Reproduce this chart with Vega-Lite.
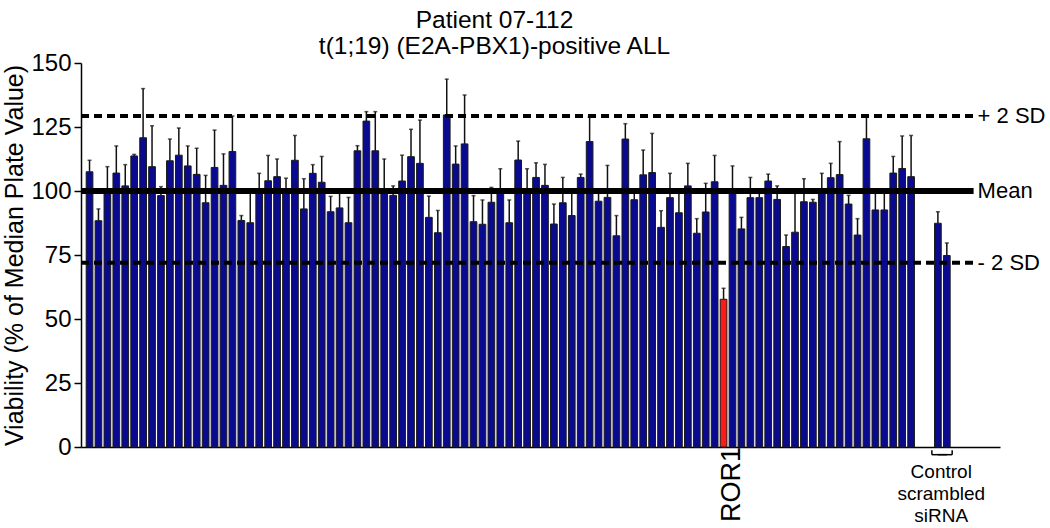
{
  "$schema": "https://vega.github.io/schema/vega-lite/v6.json",
  "width": 919,
  "height": 384,
  "autosize": "none",
  "padding": {"left": 81, "top": 63, "right": 50, "bottom": 81},
  "background": "white",
  "config": {
    "view": {"stroke": null},
    "font": "Liberation Sans",
    "axis": {"grid": false}
  },
  "title": {
    "text": ["Patient 07-112", "t(1;19) (E2A-PBX1)-positive ALL"],
    "fontSize": 24.5,
    "font": "Liberation Sans",
    "fontWeight": "normal",
    "color": "black",
    "lineHeight": 26,
    "anchor": "middle",
    "frame": "group",
    "dx": -46,
    "dy": 40,
    "baseline": "bottom",
    "offset": 8
  },
  "datasets": {
    "bars": [
      {"i":1,"v":107.5,"e":112,"g":"siRNA"},
      {"i":2,"v":88.4,"e":93,"g":"siRNA"},
      {"i":3,"v":100.5,"e":109.5,"g":"siRNA"},
      {"i":4,"v":107,"e":117.6,"g":"siRNA"},
      {"i":5,"v":102,"e":110.3,"g":"siRNA"},
      {"i":6,"v":113.7,"e":114.3,"g":"siRNA"},
      {"i":7,"v":120.8,"e":140,"g":"siRNA"},
      {"i":8,"v":109.5,"e":125.5,"g":"siRNA"},
      {"i":9,"v":98.2,"e":101.7,"g":"siRNA"},
      {"i":10,"v":111.8,"e":120.3,"g":"siRNA"},
      {"i":11,"v":114,"e":124.6,"g":"siRNA"},
      {"i":12,"v":109.8,"e":117.6,"g":"siRNA"},
      {"i":13,"v":106.5,"e":116.7,"g":"siRNA"},
      {"i":14,"v":95.4,"e":106.1,"g":"siRNA"},
      {"i":15,"v":109.2,"e":123.8,"g":"siRNA"},
      {"i":16,"v":102.2,"e":114.5,"g":"siRNA"},
      {"i":17,"v":115.4,"e":129.3,"g":"siRNA"},
      {"i":18,"v":88.5,"e":90.4,"g":"siRNA"},
      {"i":19,"v":87.6,"e":99.7,"g":"siRNA"},
      {"i":20,"v":100.2,"e":106.9,"g":"siRNA"},
      {"i":21,"v":104,"e":113.9,"g":"siRNA"},
      {"i":22,"v":105.6,"e":112.5,"g":"siRNA"},
      {"i":23,"v":100.9,"e":105,"g":"siRNA"},
      {"i":24,"v":112,"e":121.7,"g":"siRNA"},
      {"i":25,"v":93,"e":104.8,"g":"siRNA"},
      {"i":26,"v":106.9,"e":110.3,"g":"siRNA"},
      {"i":27,"v":103.4,"e":113.5,"g":"siRNA"},
      {"i":28,"v":91.9,"e":97.9,"g":"siRNA"},
      {"i":29,"v":93.4,"e":99.1,"g":"siRNA"},
      {"i":30,"v":87.6,"e":97.5,"g":"siRNA"},
      {"i":31,"v":115.7,"e":117.7,"g":"siRNA"},
      {"i":32,"v":127.3,"e":131,"g":"siRNA"},
      {"i":33,"v":115.7,"e":131,"g":"siRNA"},
      {"i":34,"v":100.3,"e":112.5,"g":"siRNA"},
      {"i":35,"v":98.3,"e":102,"g":"siRNA"},
      {"i":36,"v":103.9,"e":114,"g":"siRNA"},
      {"i":37,"v":113.4,"e":124.1,"g":"siRNA"},
      {"i":38,"v":110.8,"e":127.7,"g":"siRNA"},
      {"i":39,"v":89.7,"e":98,"g":"siRNA"},
      {"i":40,"v":83.7,"e":92.4,"g":"siRNA"},
      {"i":41,"v":129.7,"e":143.7,"g":"siRNA"},
      {"i":42,"v":110.5,"e":117.6,"g":"siRNA"},
      {"i":43,"v":118.4,"e":137.5,"g":"siRNA"},
      {"i":44,"v":88,"e":98.2,"g":"siRNA"},
      {"i":45,"v":87,"e":96.5,"g":"siRNA"},
      {"i":46,"v":95.6,"e":101.4,"g":"siRNA"},
      {"i":47,"v":100.5,"e":108.7,"g":"siRNA"},
      {"i":48,"v":87.6,"e":96.5,"g":"siRNA"},
      {"i":49,"v":112.1,"e":119.5,"g":"siRNA"},
      {"i":50,"v":99.5,"e":108.7,"g":"siRNA"},
      {"i":51,"v":105.3,"e":111,"g":"siRNA"},
      {"i":52,"v":102.2,"e":110.4,"g":"siRNA"},
      {"i":53,"v":87.1,"e":94.9,"g":"siRNA"},
      {"i":54,"v":95.4,"e":105.3,"g":"siRNA"},
      {"i":55,"v":90.4,"e":99.3,"g":"siRNA"},
      {"i":56,"v":105.3,"e":106.6,"g":"siRNA"},
      {"i":57,"v":119.3,"e":128.8,"g":"siRNA"},
      {"i":58,"v":96,"e":99.3,"g":"siRNA"},
      {"i":59,"v":97.5,"e":110,"g":"siRNA"},
      {"i":60,"v":82.5,"e":90.4,"g":"siRNA"},
      {"i":61,"v":120.3,"e":126.3,"g":"siRNA"},
      {"i":62,"v":96.6,"e":99.3,"g":"siRNA"},
      {"i":63,"v":106.3,"e":116,"g":"siRNA"},
      {"i":64,"v":107.2,"e":122.5,"g":"siRNA"},
      {"i":65,"v":85.8,"e":92.3,"g":"siRNA"},
      {"i":66,"v":97.4,"e":106.9,"g":"siRNA"},
      {"i":67,"v":91.5,"e":99.3,"g":"siRNA"},
      {"i":68,"v":102,"e":110.8,"g":"siRNA"},
      {"i":69,"v":83.5,"e":89.2,"g":"siRNA"},
      {"i":70,"v":91.8,"e":103,"g":"siRNA"},
      {"i":71,"v":103.6,"e":113.9,"g":"siRNA"},
      {"i":72,"v":57.7,"e":62,"g":"ROR1"},
      {"i":73,"v":100.5,"e":109.8,"g":"siRNA"},
      {"i":74,"v":85.2,"e":89.7,"g":"siRNA"},
      {"i":75,"v":97.4,"e":105.3,"g":"siRNA"},
      {"i":76,"v":97.4,"e":99.1,"g":"siRNA"},
      {"i":77,"v":103.9,"e":106.6,"g":"siRNA"},
      {"i":78,"v":96.7,"e":102,"g":"siRNA"},
      {"i":79,"v":78.3,"e":82.8,"g":"siRNA"},
      {"i":80,"v":83.9,"e":99.1,"g":"siRNA"},
      {"i":81,"v":95.8,"e":104.8,"g":"siRNA"},
      {"i":82,"v":95.6,"e":96.7,"g":"siRNA"},
      {"i":83,"v":100.2,"e":106.9,"g":"siRNA"},
      {"i":84,"v":105.2,"e":110.8,"g":"siRNA"},
      {"i":85,"v":106.4,"e":119.3,"g":"siRNA"},
      {"i":86,"v":94.9,"e":98.3,"g":"siRNA"},
      {"i":87,"v":82.8,"e":89.2,"g":"siRNA"},
      {"i":88,"v":120.4,"e":129.7,"g":"siRNA"},
      {"i":89,"v":92.6,"e":99.1,"g":"siRNA"},
      {"i":90,"v":92.6,"e":99.1,"g":"siRNA"},
      {"i":91,"v":107,"e":113.5,"g":"siRNA"},
      {"i":92,"v":108.8,"e":121.5,"g":"siRNA"},
      {"i":93,"v":105.6,"e":121.7,"g":"siRNA"},
      {"i":96,"v":87.4,"e":91.9,"g":"Control"},
      {"i":97,"v":74.8,"e":79.7,"g":"Control"}
    ],
    "refs": [
      {"y":129.3,"label":"+ 2 SD","kind":"sd"},
      {"y":100,"label":"Mean","kind":"mean"},
      {"y":72,"label":"- 2 SD","kind":"sd"}
    ],
    "notes": [
      {"i":72,"label":"ROR1"}
    ],
    "controls": [
      {"i":96,"label":"Control\nscrambled\nsiRNA"}
    ]
  },
  "encoding": {
    "x": {
      "field": "i",
      "type": "ordinal",
      "scale": {
        "domain": [1,2,3,4,5,6,7,8,9,10,11,12,13,14,15,16,17,18,19,20,21,22,23,24,25,26,27,28,29,30,31,32,33,34,35,36,37,38,39,40,41,42,43,44,45,46,47,48,49,50,51,52,53,54,55,56,57,58,59,60,61,62,63,64,65,66,67,68,69,70,71,72,73,74,75,76,77,78,79,80,81,82,83,84,85,86,87,88,89,90,91,92,93,94,95,96,97,98,99,100,101,102],
        "paddingInner": 0.25,
        "paddingOuter": 0.58
      },
      "axis": {
        "title": null,
        "labels": false,
        "ticks": false,
        "domain": true,
        "domainColor": "black",
        "domainWidth": 1.5
      }
    }
  },
  "layer": [
    {
      "data": {"name": "bars"},
      "mark": {"type": "bar", "stroke": "#1a1a1a", "strokeWidth": 1},
      "encoding": {
        "y": {
          "field": "v",
          "type": "quantitative",
          "scale": {"domain": [0, 150], "nice": false},
          "axis": {
            "title": "Viability (% of Median Plate Value)",
            "titleFontSize": 25,
            "titleFontWeight": "normal",
            "titleColor": "black",
            "titlePadding": 3,
            "values": [0, 25, 50, 75, 100, 125, 150],
            "labelFontSize": 24,
            "labelColor": "black",
            "labelPadding": 3,
            "tickSize": 7,
            "tickWidth": 1.5,
            "tickColor": "black",
            "domainColor": "black",
            "domainWidth": 1.5
          }
        },
        "color": {
          "field": "g",
          "type": "nominal",
          "scale": {"domain": ["siRNA", "ROR1", "Control"], "range": ["#0a0a8e", "#ff1a1a", "#0a0a8e"]},
          "legend": null
        }
      }
    },
    {
      "data": {"name": "bars"},
      "mark": {"type": "rule", "color": "#111111", "strokeWidth": 1.5},
      "encoding": {
        "y": {"field": "v", "type": "quantitative"},
        "y2": {"field": "e"}
      }
    },
    {
      "data": {"name": "bars"},
      "mark": {"type": "tick", "orient": "horizontal", "color": "#111111", "size": 4, "thickness": 1.5},
      "encoding": {
        "y": {"field": "e", "type": "quantitative"}
      }
    },
    {
      "data": {"name": "refs"},
      "transform": [{"filter": "datum.kind == 'sd'"}],
      "mark": {"type": "rule", "color": "black", "strokeWidth": 4, "strokeDash": [8, 5]},
      "encoding": {
        "x": {"datum": 1, "type": "ordinal", "bandPosition": -0.77},
        "x2": {"datum": 100},
        "y": {"field": "y", "type": "quantitative"}
      }
    },
    {
      "data": {"name": "refs"},
      "transform": [{"filter": "datum.kind == 'mean'"}],
      "mark": {"type": "rule", "color": "black", "strokeWidth": 6},
      "encoding": {
        "x": {"datum": 1, "type": "ordinal", "bandPosition": -0.77},
        "x2": {"datum": 100},
        "y": {"field": "y", "type": "quantitative"}
      }
    },
    {
      "data": {"name": "refs"},
      "mark": {"type": "text", "align": "left", "baseline": "middle", "fontSize": 22, "color": "black", "dx": 4},
      "encoding": {
        "x": {"datum": 100, "type": "ordinal"},
        "y": {"field": "y", "type": "quantitative"},
        "text": {"field": "label", "type": "nominal"}
      }
    },
    {
      "data": {"name": "notes"},
      "mark": {"type": "text", "angle": 270, "align": "right", "baseline": "middle", "fontSize": 27, "color": "black", "dy": 8},
      "encoding": {
        "y": {"datum": 0},
        "text": {"field": "label", "type": "nominal"}
      }
    },
    {
      "data": {"name": "controls"},
      "mark": {"type": "text", "align": "center", "baseline": "top", "fontSize": 19, "lineHeight": 22, "lineBreak": "\n", "color": "black", "dy": 16},
      "encoding": {
        "x": {"field": "i", "type": "ordinal", "bandPosition": 1},
        "y": {"datum": 0},
        "text": {"field": "label", "type": "nominal"}
      }
    },
    {
      "data": {"name": "controls"},
      "mark": {"type": "rule", "color": "black", "strokeWidth": 1.5},
      "encoding": {
        "x": {"datum": 96, "type": "ordinal", "bandPosition": -0.4},
        "x2": {"datum": 97},
        "y": {"datum": -3}
      }
    },
    {
      "data": {"name": "controls"},
      "mark": {"type": "rule", "color": "black", "strokeWidth": 1.5},
      "encoding": {
        "x": {"datum": 97, "type": "ordinal", "bandPosition": 1.3},
        "x2": {"datum": 96},
        "y": {"datum": -3}
      }
    },
    {
      "data": {"name": "controls"},
      "mark": {"type": "rule", "color": "black", "strokeWidth": 1.5},
      "encoding": {
        "x": {"datum": 96, "type": "ordinal", "bandPosition": -0.4},
        "y": {"datum": -3},
        "y2": {"datum": -1.3}
      }
    },
    {
      "data": {"name": "controls"},
      "mark": {"type": "rule", "color": "black", "strokeWidth": 1.5},
      "encoding": {
        "x": {"datum": 97, "type": "ordinal", "bandPosition": 1.3},
        "y": {"datum": -3},
        "y2": {"datum": -1.3}
      }
    }
  ]
}
